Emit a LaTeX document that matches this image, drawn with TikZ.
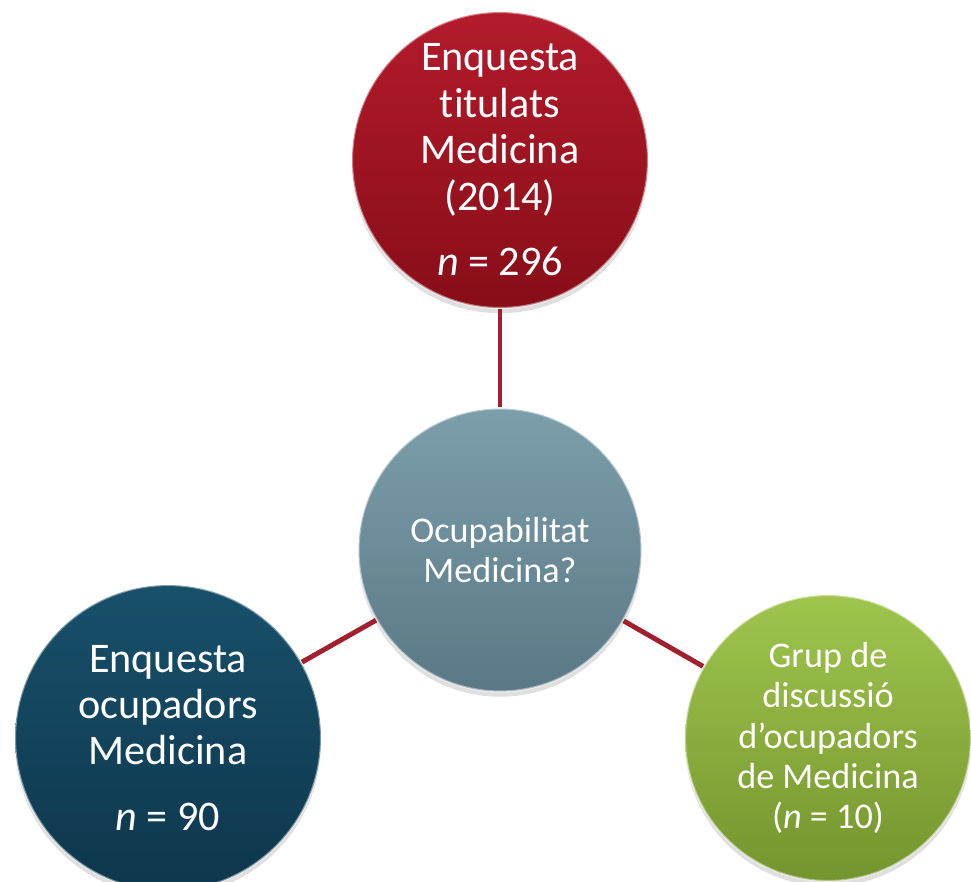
\documentclass[tikz,border=0pt]{standalone}
\usepackage{fontspec}
\setmainfont[Ligatures=NoCommon]{Carlito}
\usetikzlibrary{graphs,shadows}
\definecolor{tit.top}{HTML}{B31B2B}
\definecolor{tit.bot}{HTML}{870D18}
\definecolor{ocu.top}{HTML}{7C9FAB}
\definecolor{ocu.bot}{HTML}{5A7885}
\definecolor{emp.top}{HTML}{18506B}
\definecolor{emp.bot}{HTML}{0D374C}
\definecolor{grp.top}{HTML}{A0C54E}
\definecolor{grp.bot}{HTML}{74942D}
\definecolor{link}{HTML}{A31F2D}

\begin{document}
\begin{tikzpicture}[x=0.02cm, y=-0.02cm]
  \tikzset{bubble/.append style={circle, inner sep = 0, align=center,
      text=white, draw=white, draw opacity=0.45, line width=1.2pt,
      drop shadow={opacity=0.25, shadow xshift=0pt, shadow yshift=-3pt}},
    big/.style={font=\fontsize{24}{26.4}\selectfont},
    small/.style={font=\fontsize{20.6}{23}\selectfont}}
  \useasboundingbox (0,0) rectangle (971,882);

  \node[bubble, big, minimum size=5.92cm, top color=tit.top,
    bottom color=tit.bot] (tit) at (500,160)
    {Enquesta\\titulats\\Medicina\\(2014)\\[11pt]\textit{n} = 296};
  \node[bubble, small, minimum size=5.66cm, top color=ocu.top,
    bottom color=ocu.bot] (ocu) at (500,550)
    {Ocupabilitat\\Medicina?};
  \node[bubble, big, minimum size=6.12cm, top color=emp.top,
    bottom color=emp.bot] (emp) at (168,738)
    {Enquesta\\ocupadors\\Medicina\\[11pt]\textit{n} = 90};
  \node[bubble, small, minimum size=5.72cm, top color=grp.top,
    bottom color=grp.bot] (grp) at (828,738)
    {Grup de\\discussió\\d’ocupadors\\de Medicina\\(\textit{n} = 10)};

  \graph[use existing nodes] {
    ocu --[link, line width=2.8pt] tit;
    ocu --[link, line width=2.8pt] emp;
    ocu --[link, line width=2.8pt] grp;
  };
\end{tikzpicture}
\end{document}
